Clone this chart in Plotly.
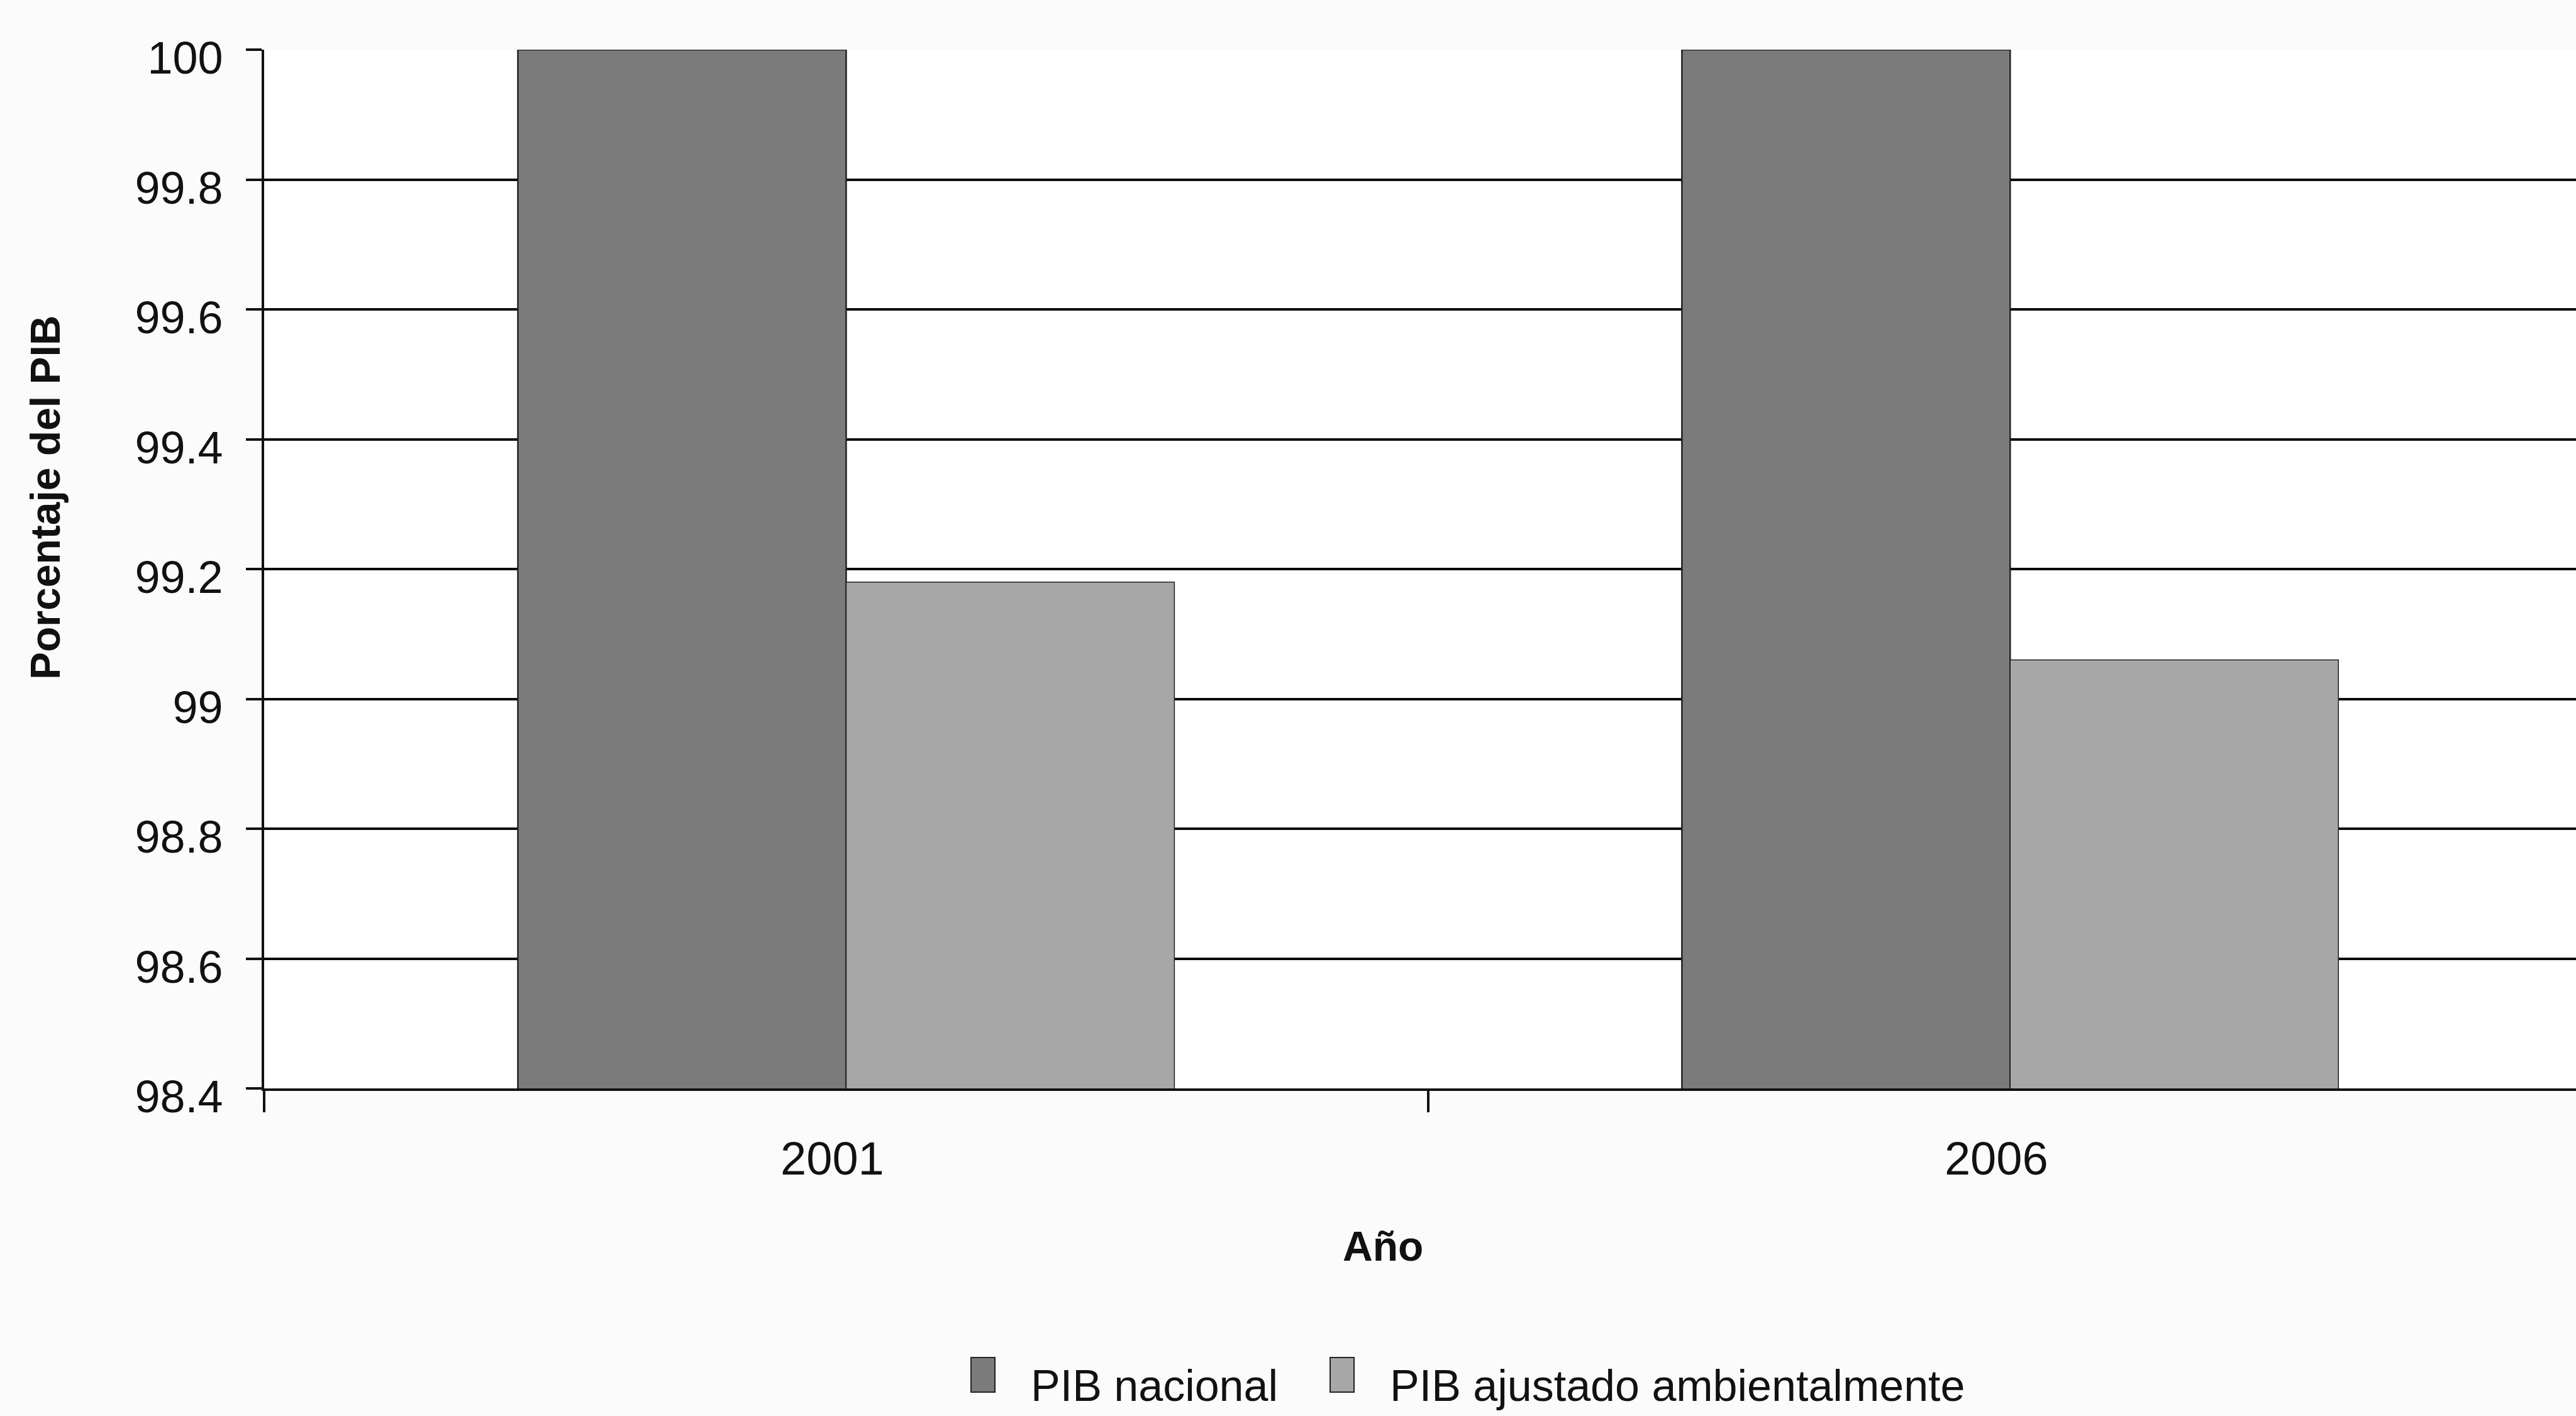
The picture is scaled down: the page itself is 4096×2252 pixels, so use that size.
import plotly.graph_objects as go

# Datos: porcentaje del PIB
anios = ["2001", "2006"]
pib_nacional = [100.0, 100.0]
pib_ajustado = [99.18, 99.06]
series_nombres = ["PIB nacional", "PIB ajustado ambientalmente"]
y_ticks = [98.4, 98.6, 98.8, 99.0, 99.2, 99.4, 99.6, 99.8, 100.0]

W, H = 4096, 2252
L, T, B = 420, 79, 521          # margins in px
PLOT_W = W - L
PLOT_H = H - T - B

SANS = "Liberation Sans, Arial, sans-serif"
C_DARK = "#7b7b7b"
C_LIGHT = "#a7a7a7"
EDGE = "#222222"
INK = "#111111"


def px_x(px):
    return (px - L) / PLOT_W


def px_y(py):
    return (H - B - py) / PLOT_H


fig = go.Figure()
fig.add_trace(go.Bar(x=anios, y=pib_nacional, name=series_nombres[0],
                     marker=dict(color=C_DARK, line=dict(color=EDGE, width=2.5)),
                     showlegend=False))
fig.add_trace(go.Bar(x=anios, y=pib_ajustado, name=series_nombres[1],
                     marker=dict(color=C_LIGHT, line=dict(color=EDGE, width=1.5)),
                     showlegend=False))

unit = 1916 * 0.966
fig.update_layout(
    width=W, height=H,
    margin=dict(l=L, r=0, t=T, b=B),
    paper_bgcolor="#fbfbfb",
    plot_bgcolor="#ffffff",
    barmode="group",
    bargap=0.436,
    bargroupgap=0,
    font=dict(family=SANS, size=72, color=INK),
    xaxis=dict(
        type="category",
        range=[-0.5, -0.5 + PLOT_W / unit],
        showline=True, linecolor=INK, linewidth=4,
        ticks="outside", tickson="boundaries", ticklen=34, tickwidth=3.5,
        tickcolor=INK,
        showgrid=False,
        tickfont=dict(family=SANS, size=74, color=INK),
        ticklabelstandoff=44,
        ticklabelshift=-22,
    ),
    yaxis=dict(
        range=[98.4, 100.0],
        tickvals=y_ticks,
        ticktext=[f"{v:g}" for v in y_ticks],
        showline=True, linecolor=INK, linewidth=4,
        ticks="outside", ticklen=25, tickwidth=3.5, tickcolor=INK,
        showgrid=True, gridcolor="#0a0a0a", gridwidth=4,
        zeroline=False,
        tickfont=dict(family=SANS, size=72, color=INK),
        ticklabelstandoff=22,
        ticklabelshift=13,
    ),
)

annotations = [
    dict(text="<b>Porcentaje del PIB</b>", textangle=-90,
         x=px_x(72), y=px_y(791), xref="paper", yref="paper",
         xanchor="center", yanchor="middle", showarrow=False,
         font=dict(family=SANS, size=66, color=INK)),
    dict(text="<b>Año</b>",
         x=px_x(2199), y=px_y(1982), xref="paper", yref="paper",
         xanchor="center", yanchor="middle", showarrow=False,
         font=dict(family=SANS, size=66, color=INK)),
]

# Leyenda dibujada a mano (muestras de color y rótulos)
leyenda = [
    (1544, 1582, 1637, C_DARK, series_nombres[0]),
    (2115, 2153, 2208, C_LIGHT, series_nombres[1]),
]
shapes = []
for x0, x1, xt, color, nombre in leyenda:
    shapes.append(dict(type="rect", xref="paper", yref="paper",
                       x0=px_x(x0), x1=px_x(x1), y0=px_y(2159), y1=px_y(2214),
                       fillcolor=color, line=dict(color=EDGE, width=2)))
    annotations.append(dict(text=nombre, x=px_x(xt), y=px_y(2204),
                            xref="paper", yref="paper", xanchor="left",
                            yanchor="middle", showarrow=False,
                            font=dict(family=SANS, size=70, color=INK)))

fig.update_layout(annotations=annotations, shapes=shapes)

fig.write_html("out.html")
